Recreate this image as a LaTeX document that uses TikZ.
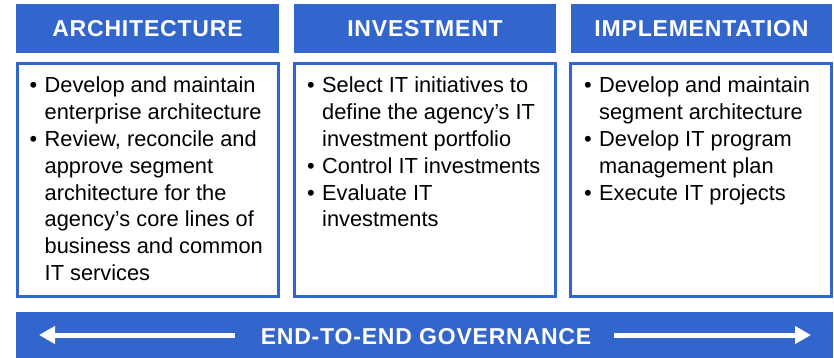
\documentclass[tikz,border=0pt]{standalone}
\usepackage{fontspec}
\setmainfont{Liberation Sans}
\newfontfamily\headfont[LetterSpace=3.5]{Liberation Sans}
\usetikzlibrary{arrows.meta}
\definecolor{hblue}{HTML}{3366CC}
\newcommand{\bul}{\makebox[15pt][l]{•}}
\begin{document}
\begin{tikzpicture}[x=1pt,y=-1pt,
  header/.style={fill=hblue, text=white, inner sep=0pt,
    font=\headfont\fontsize{23}{27}\selectfont\bfseries},
  panel/.style={draw=hblue, line width=3pt, inner sep=0pt},
  body/.style={anchor=base west, inner sep=0pt, text=black,
    font=\fontsize{21.8}{26.8}\selectfont},
  bar/.style={fill=hblue, inner sep=0pt},
  govarrow/.style={draw=white, line width=5pt,
    -{Triangle[length=16pt,width=17pt]}}]
\useasboundingbox (0,0) rectangle (834,358);

% headers
\node[header, minimum width=263pt, minimum height=49pt] (h1) at (147.5,28.5) {ARCHITECTURE};
\node[header, minimum width=262pt, minimum height=49pt] (h2) at (425,28.5) {INVESTMENT};
\node[header, minimum width=261pt, minimum height=49pt] (h3) at (701.5,28.5) {IMPLEMENTATION};

% panels
\node[panel, minimum width=261pt, minimum height=233pt] (p1) at (148,180) {};
\node[panel, minimum width=261pt, minimum height=233pt] (p2) at (425,180) {};
\node[panel, minimum width=261pt, minimum height=233pt] (p3) at (701,180) {};

% body texts
\node[body] (t1) at (29.5,93) {\begin{tabular}[t]{@{}l@{}l@{}}
\bul & Develop and maintain\\
 & enterprise architecture\\
\bul & Review, reconcile and\\
 & approve segment\\
 & architecture for the\\
 & agency’s core lines of\\
 & business and common\\
 & IT services
\end{tabular}};
\node[body] (t2) at (307,93) {\begin{tabular}[t]{@{}l@{}l@{}}
\bul & Select IT initiatives to\\
 & define the agency’s IT\\
 & investment portfolio\\
\bul & Control IT investments\\
\bul & Evaluate IT\\
 & investments
\end{tabular}};
\node[body] (t3) at (584,93) {\begin{tabular}[t]{@{}l@{}l@{}}
\bul & Develop and maintain\\
 & segment architecture\\
\bul & Develop IT program\\
 & management plan\\
\bul & Execute IT projects
\end{tabular}};

% governance bar
\node[bar, minimum width=817pt, minimum height=46pt] (gbar) at (424.5,335) {};
\node[header, fill=none] (gov) at (426,337) {END-TO-END GOVERNANCE};
\coordinate (la) at (235,335);
\coordinate (lt) at (39,335);
\coordinate (ra) at (614,335);
\coordinate (rt) at (811,335);
\draw[govarrow] (la) -- (lt);
\draw[govarrow] (ra) -- (rt);
\end{tikzpicture}
\end{document}
